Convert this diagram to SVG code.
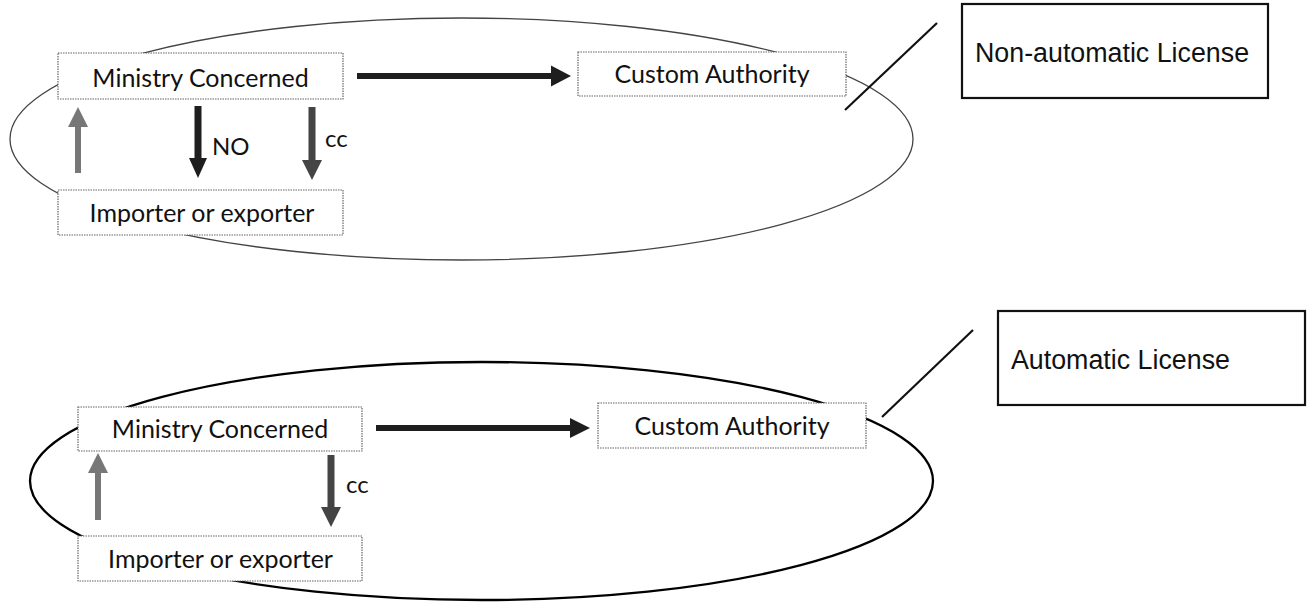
<svg xmlns="http://www.w3.org/2000/svg" width="1312" height="602" viewBox="0 0 1312 602">
<style>
.bg{fill:#fff}
.ell1{fill:none;stroke:#444;stroke-width:1.3}
.ell2{fill:none;stroke:#000;stroke-width:2.3}
.box{fill:#fff;stroke:#666;stroke-width:1.2;stroke-dasharray:1.5 1}
.lbl{font-family:Lato,"Open Sans",sans-serif;font-size:25px;fill:#111;text-anchor:middle}
.small{font-family:Lato,"Open Sans",sans-serif;font-size:24px;fill:#111}
.call{fill:#fff;stroke:#111;stroke-width:2.2}
.ctext{font-family:"Liberation Sans",Arial,sans-serif;font-size:26.8px;fill:#111}
.cline{stroke:#111;stroke-width:2.2;fill:none}
.dark{fill:#1e1e1e}
.mid{fill:#444}
.light{fill:#777}
</style>
<rect class="bg" x="0" y="0" width="1312" height="602"/>

<g id="grouping">
  <ellipse id="ellipse-top" class="ell1" cx="461.5" cy="139" rx="451.5" ry="121"/>
  <ellipse id="ellipse-bottom" class="ell2" cx="481.5" cy="481" rx="451.5" ry="119"/>
</g>

<g id="connectors">
  <polygon class="dark" points="357,73 551,73 551,65.5 571,76 551,86.5 551,79 357,79"/>
  <polygon class="light" points="75,173 75,127 68,127 78,107 88,127 81,127 81,173"/>
  <polygon class="dark" points="194.5,106 201.5,106 201.5,158 207,158 198,178 189,158 194.5,158"/>
  <polygon class="mid" points="308.5,107 315.5,107 315.5,160 322,160 312,180 302,160 308.5,160"/>
  <line class="cline" x1="845" y1="110" x2="937" y2="23"/>
  <polygon class="dark" points="376,425 570,425 570,418 590,428 570,438 570,431 376,431"/>
  <polygon class="light" points="95,520 95,473 88,473 98,453 108,473 101,473 101,520"/>
  <polygon class="mid" points="327.5,455 334.5,455 334.5,507 341,507 331,527 321,507 327.5,507"/>
  <line class="cline" x1="882" y1="417" x2="973" y2="330"/>
</g>

<g id="labels">
  <text class="small" x="212" y="155">NO</text>
  <text class="small" x="325" y="147">cc</text>
  <text class="small" x="346" y="493">cc</text>
</g>

<g id="top-ministry">
  <rect class="box" x="58" y="53" width="285" height="46"/>
  <text class="lbl" x="200.5" y="87">Ministry Concerned</text>
</g>
<g id="top-importer">
  <rect class="box" x="58" y="190" width="285" height="45"/>
  <text class="lbl" x="202" y="222">Importer or exporter</text>
</g>
<g id="top-custom">
  <rect class="box" x="578" y="52" width="268" height="44"/>
  <text class="lbl" x="712" y="83">Custom Authority</text>
</g>
<g id="top-callout">
  <rect class="call" x="962" y="4" width="306" height="94"/>
  <text class="ctext" x="975" y="62">Non-automatic License</text>
</g>

<g id="bottom-ministry">
  <rect class="box" x="78" y="407" width="284" height="44"/>
  <text class="lbl" x="220" y="438">Ministry Concerned</text>
</g>
<g id="bottom-importer">
  <rect class="box" x="78" y="536" width="284" height="45"/>
  <text class="lbl" x="220.5" y="568">Importer or exporter</text>
</g>
<g id="bottom-custom">
  <rect class="box" x="598" y="403" width="268" height="45"/>
  <text class="lbl" x="732" y="435">Custom Authority</text>
</g>
<g id="bottom-callout">
  <rect class="call" x="998" y="311" width="307" height="94"/>
  <text class="ctext" x="1011" y="369">Automatic License</text>
</g>
</svg>
